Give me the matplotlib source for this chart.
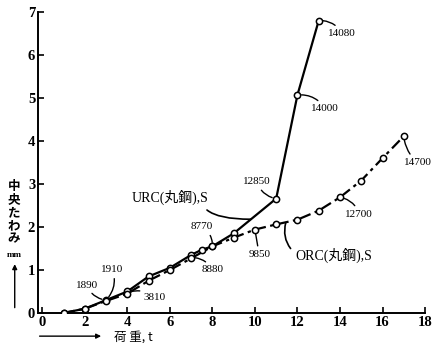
import matplotlib.pyplot as plt
import numpy as np

# load (t) vs. central deflection (mm)
urc_load = [1, 2, 3, 4, 5, 6, 7, 7.5, 8, 9, 11, 12, 13]
urc_defl = [0.0, 0.1, 0.3, 0.5, 0.85, 1.05, 1.35, 1.47, 1.55, 1.85, 2.66, 5.07, 6.8]

orc_load = [1, 2, 3, 4, 5, 6, 7, 8, 9, 10, 11, 12, 13, 14, 15, 16, 17]
orc_defl = [0.0, 0.1, 0.28, 0.45, 0.75, 1.0, 1.27, 1.55, 1.75, 1.94, 2.06, 2.17, 2.38, 2.69, 3.08, 3.6, 4.11]

# point labels: (text, load, deflection of marked point, text x, text y, arc)
labels = [
    ('1890', 3, 0.3, 2.1, 0.65, 0.3),
    ('1910', 3, 0.3, 3.3, 1.0, -0.3),
    ('3810', 4, 0.47, 5.3, 0.35, 0.3),
    ('8880', 7, 1.29, 8.0, 1.0, 0.3),
    ('8770', 8, 1.55, 7.5, 2.0, -0.3),
    ('12850', 11, 2.66, 10.1, 3.05, 0.3),
    ('9850', 10, 1.94, 10.2, 1.36, 0.0),
    ('12700', 14, 2.69, 14.9, 2.3, 0.3),
    ('14700', 17, 4.11, 17.65, 3.5, -0.2),
    ('14000', 12, 5.07, 13.3, 4.75, 0.3),
    ('14080', 13, 6.8, 14.1, 6.5, 0.3),
]

plt.rcParams['font.family'] = ['Liberation Serif', 'Noto Sans CJK JP']

fig = plt.figure(figsize=(4.33, 3.43), dpi=100)
ax = fig.add_axes([0.0878, 0.0875, 0.8938, 0.8776])

ax.plot(urc_load, urc_defl, color='black', lw=1.6, marker='o', ms=4.5,
        markerfacecolor='white', markeredgecolor='black', mew=1.1, zorder=3)
ax.plot(orc_load, orc_defl, color='black', lw=1.6, dashes=[5, 2, 1.5, 2], marker='o', ms=4.5,
        markerfacecolor='white', markeredgecolor='black', mew=1.1, zorder=3)

for txt, x, y, tx, ty, rad in labels:
    ax.annotate(txt, xy=(x, y), xytext=(tx, ty), fontsize=8, ha='center', va='center',
                arrowprops=dict(arrowstyle='-', color='black', lw=1.0, shrinkA=1, shrinkB=3,
                                connectionstyle='arc3,rad=%.2f' % rad))

ax.annotate('URC(丸鋼),S', xy=(9.8, 2.18), xytext=(6.0, 2.68), fontsize=10,
            ha='center', va='center',
            arrowprops=dict(arrowstyle='-', color='black', lw=1.2, shrinkA=2, shrinkB=0,
                            connectionstyle='angle3,angleA=-60,angleB=0',
                            relpos=(0.93, 0.0)))
ax.annotate('ORC(丸鋼),S', xy=(11.45, 2.1), xytext=(13.7, 1.35), fontsize=10,
            ha='center', va='center',
            arrowprops=dict(arrowstyle='-', color='black', lw=1.2, shrinkA=2, shrinkB=0,
                            connectionstyle='arc3,rad=-0.3',
                            relpos=(0.0, 0.6)))

ax.set_xlim(-0.2, 18)
ax.set_ylim(0, 7)
ax.set_xticks(np.arange(0, 19, 2))
ax.set_yticks(np.arange(0, 8, 1))
ax.spines['top'].set_visible(False)
ax.spines['right'].set_visible(False)
for s in ('left', 'bottom'):
    ax.spines[s].set_linewidth(1.4)
ax.tick_params(direction='in', length=4, width=1.2, labelsize=10.5, pad=2)
for lab in ax.get_xticklabels() + ax.get_yticklabels():
    lab.set_fontweight('bold')

# axis titles drawn as in the print: stacked y title with arrow, x title with arrow
fig.text(0.032, 0.285, '中\n央\nた\nわ\nみ', fontsize=9, ha='center', va='bottom',
         linespacing=1.0, family=['Noto Sans CJK JP'], fontweight='bold')
fig.text(0.032, 0.245, 'mm', fontsize=6.5, ha='center', va='bottom', fontweight='bold')
fig.add_artist(plt.matplotlib.patches.FancyArrowPatch(
    (0.034, 0.095), (0.034, 0.238), transform=fig.transFigure,
    arrowstyle='-|>', mutation_scale=7, color='black', lw=1.0))
fig.add_artist(plt.matplotlib.patches.FancyArrowPatch(
    (0.085, 0.02), (0.24, 0.02), transform=fig.transFigure,
    arrowstyle='-|>', mutation_scale=7, color='black', lw=1.0))
fig.text(0.307, 0.018, '荷 重, t', fontsize=9, ha='center', va='center',
         family=['Noto Sans CJK JP', 'DejaVu Sans'])

plt.savefig('out.png', dpi=100)
